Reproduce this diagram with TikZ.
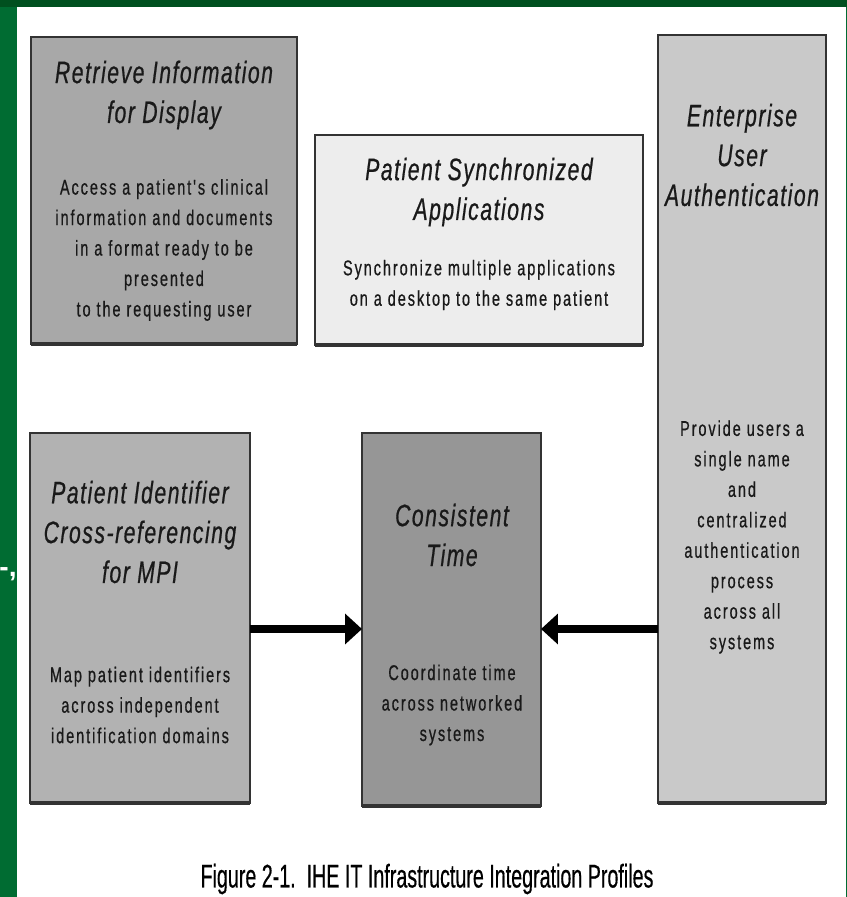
\documentclass[tikz,border=0pt]{standalone}
\usepackage{fontspec}
\setmainfont{Liberation Sans}
\newfontfamily\ttlfont[FakeStretch=0.68,LetterSpace=5,FakeBold=0.6]{Liberation Sans}
\newfontfamily\bodyfont[FakeStretch=0.68,LetterSpace=9,FakeBold=0.6]{Liberation Sans}
\newfontfamily\capfont[FakeStretch=0.6,FakeBold=0.4]{Liberation Sans}
\usetikzlibrary{arrows.meta}
\definecolor{slidegreen}{HTML}{00501F}
\definecolor{sidegreen}{HTML}{006C32}
\definecolor{edgegray}{HTML}{333333}
\tikzstyle{profile} = [
    rectangle, inner sep=0pt, outer sep=0pt,
    draw=edgegray, line width=1.3pt
]
\tikzstyle{title} = [
    align=center, text=black!90,
    font=\ttlfont\itshape\fontsize{26.5}{34}\selectfont
]
\tikzstyle{desc} = [
    align=center, text=black!90,
    font=\bodyfont\fontsize{18.2}{26}\selectfont
]
\tikzstyle{shadow} = [edgegray, line width=3pt]
\tikzstyle{arrow} = [line width=6pt, -{Triangle[length=14.5pt,width=25.5pt]}]

\begin{document}
\begin{tikzpicture}[x=0.03cm, y=-0.03cm]
        \useasboundingbox (0,0) rectangle (847,897);
        % Slide frame
        \fill[slidegreen] (0,0) rectangle (847,7);
        \fill[sidegreen] (0,7) rectangle (17,897);
        \fill[sidegreen] (845.5,7) rectangle (847,897);
        \node (cut) [text=white, font=\bfseries\fontsize{24}{24}\selectfont] at (8,574) {-,};

        % Draw blocks
        \node (ret) [profile, fill=black!34, minimum width=7.98cm, minimum height=9.21cm] at (164,190.5) {};
        \node (sync) [profile, fill=black!7, minimum width=9.84cm, minimum height=6.3cm] at (479,240) {};
        \node (eua) [profile, fill=black!21, minimum width=5.04cm, minimum height=23.04cm] at (742,419) {};
        \node (pix) [profile, fill=black!30, minimum width=6.6cm, minimum height=11.1cm] at (140,618) {};
        \node (ct) [profile, fill=black!41, minimum width=5.37cm, minimum height=11.19cm] at (451.5,619.5) {};
        \foreach \b in {ret, sync, eua, pix, ct}
            \draw[shadow] (\b.south west) -- (\b.south east);

        % Titles and descriptions
        \node (retT) [title] at (164,95) {Retrieve Information\\for Display};
        \node (retB) [desc] at (164,250) {Access a patient's clinical\\information and documents\\in a format ready to be\\presented\\to the requesting user};
        \node (syncT) [title] at (479,192) {Patient Synchronized\\Applications};
        \node (syncB) [desc] at (479,285) {Synchronize multiple applications\\on a desktop to the same patient};
        \node (euaT) [title] at (742,155) {Enterprise\\User\\Authentication};
        \node (euaB) [desc] at (742,537) {Provide users a\\single name\\and\\centralized\\authentication\\process\\across all\\systems};
        \node (pixT) [title] at (140,532) {Patient Identifier\\Cross-referencing\\for MPI};
        \node (pixB) [desc] at (140,705) {Map patient identifiers\\across independent\\identification domains};
        \node (ctT) [title] at (452,535) {Consistent\\Time};
        \node (ctB) [desc] at (452,705) {Coordinate time\\across networked\\systems};

        % Draw arrows
        \coordinate (level) at (0,629);
        \draw [arrow] (pix.east |- level) -- (ct.west |- level);
        \draw [arrow] (eua.west |- level) -- (ct.east |- level);

        % Caption
        \node (cap) [font=\capfont\fontsize{28}{28}\selectfont] at (427,879) {Figure 2-1.\ \ IHE IT Infrastructure Integration Profiles};
    \end{tikzpicture}
\end{document}
